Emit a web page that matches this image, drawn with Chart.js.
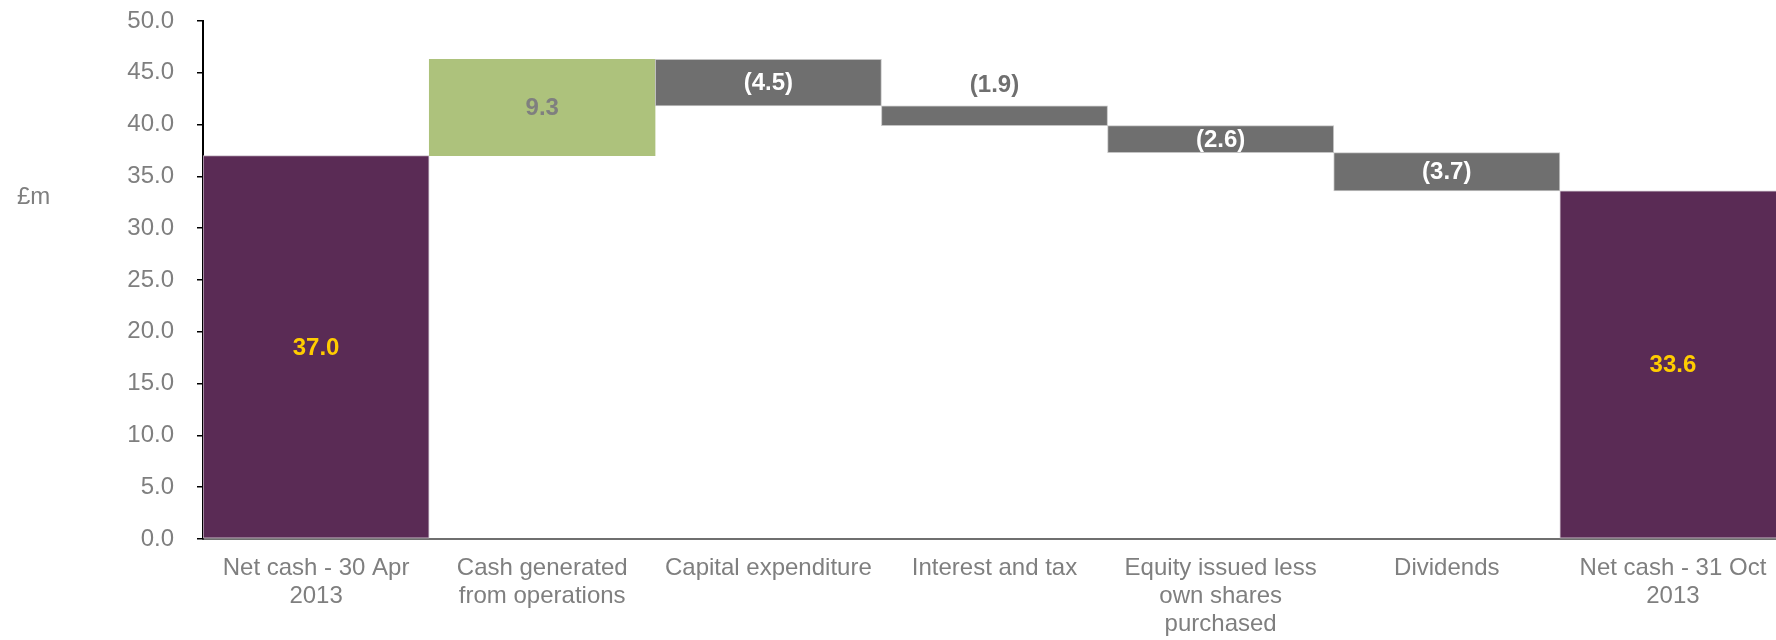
<!DOCTYPE html>
<html>
<head>
<meta charset="utf-8">
<script src="https://cdn.jsdelivr.net/npm/chart.js@4/dist/chart.umd.min.js"></script>
<style>
html,body{margin:0;padding:0;overflow:hidden;background:#fff;width:1776px;height:640px}
#wrap{position:relative;width:1786px;height:640px}
canvas{display:block}
</style>
</head>
<body>
<div id="wrap"><canvas id="c" width="1786" height="640" style="width:1786px;height:640px"></canvas></div>
<script>
// ---- data ----
const categories = [
  ['Net cash - 30 Apr', '2013'],
  ['Cash generated', 'from operations'],
  'Capital expenditure',
  'Interest and tax',
  ['Equity issued less', 'own shares', 'purchased'],
  'Dividends',
  ['Net cash - 31 Oct', '2013']
];
const values  = [37.0, 9.3, -4.5, -1.9, -2.6, -3.7, 33.6];
const isTotal = [true, false, false, false, false, false, true];
const yMin = 0, yMax = 50, yStep = 5;
const yUnitLabel = '£m';

// ---- styles ----
const COL_TOTAL = '#5a2b55';
const COL_UP = '#adc27c';
const COL_DOWN = '#6f6f6f';
const TEXT_GRAY = '#7f7f7f';
const FONT = "'Liberation Sans', Arial, sans-serif";

// build floating ranges
let running = 0;
const ranges = values.map((v, i) => {
  if (isTotal[i]) { running = v; return [0, v]; }
  const r = [running, running + v];
  running += v;
  return r;
});
const colors = values.map((v, i) => isTotal[i] ? COL_TOTAL : (v >= 0 ? COL_UP : COL_DOWN));
const borders = values.map((v, i) => isTotal[i] ? '#c9bcc8' : (v >= 0 ? COL_UP : '#c4c4c4'));

const fmt = v => v < 0 ? '(' + Math.abs(v).toFixed(1) + ')' : v.toFixed(1);

const labelPlugin = {
  id: 'valueLabels',
  afterDatasetsDraw(chart) {
    const ctx = chart.ctx;
    const meta = chart.getDatasetMeta(0);
    ctx.save();
    ctx.font = "bold 24px " + FONT;
    ctx.textAlign = 'center';
    ctx.textBaseline = 'middle';
    meta.data.forEach((bar, i) => {
      const p = bar.getProps(['x', 'y', 'base'], true);
      const top = Math.min(p.y, p.base), bottom = Math.max(p.y, p.base);
      const h = bottom - top;
      const v = values[i];
      let color, y;
      if (h < 24) {
        color = '#6f6f6f';
        y = top - 21;
      } else {
        y = (top + bottom) / 2 + 1;
        color = isTotal[i] ? '#ffcc00' : (v >= 0 ? TEXT_GRAY : '#ffffff');
      }
      ctx.fillStyle = color;
      ctx.fillText(fmt(v), p.x, y);
    });
    ctx.restore();
  }
};

const unitPlugin = {
  id: 'unitLabel',
  afterDraw(chart) {
    const ctx = chart.ctx;
    ctx.save();
    ctx.font = "24px " + FONT;
    ctx.fillStyle = TEXT_GRAY;
    ctx.textAlign = 'left';
    ctx.textBaseline = 'middle';
    ctx.fillText(yUnitLabel, 17, 197);
    ctx.restore();
  }
};

new Chart(document.getElementById('c'), {
  type: 'bar',
  data: {
    labels: categories,
    datasets: [{
      data: ranges,
      backgroundColor: colors,
      borderColor: borders,
      borderWidth: 1,
      borderSkipped: false,
      categoryPercentage: 1.0,
      barPercentage: 1.0
    }]
  },
  options: {
    responsive: false,
    animation: false,
    layout: { padding: 0 },
    plugins: { legend: { display: false }, tooltip: { enabled: false } },
    scales: {
      x: {
        offset: true,
        grid: { display: false },
        border: { display: true, color: '#6f6f6f', width: 2 },
        ticks: {
          color: TEXT_GRAY,
          font: { family: FONT, size: 24, lineHeight: 1.15 },
          padding: 8,
          maxRotation: 0,
          autoSkip: false
        },
        afterFit(scale) { scale.height = 101; }
      },
      y: {
        min: yMin, max: yMax,
        grid: { display: true, drawOnChartArea: false, drawTicks: true, tickLength: 6, color: '#000', lineWidth: 1.5 },
        border: { display: true, color: '#000', width: 2 },
        ticks: {
          stepSize: yStep,
          color: TEXT_GRAY,
          font: { family: FONT, size: 24 },
          padding: 23,
          callback: v => Number(v).toFixed(1)
        },
        afterFit(scale) {
          scale.width = 203;
          scale.paddingTop = 21;
          scale.paddingBottom = 0;
        }
      }
    }
  },
  plugins: [labelPlugin, unitPlugin]
});
</script>
</body>
</html>
